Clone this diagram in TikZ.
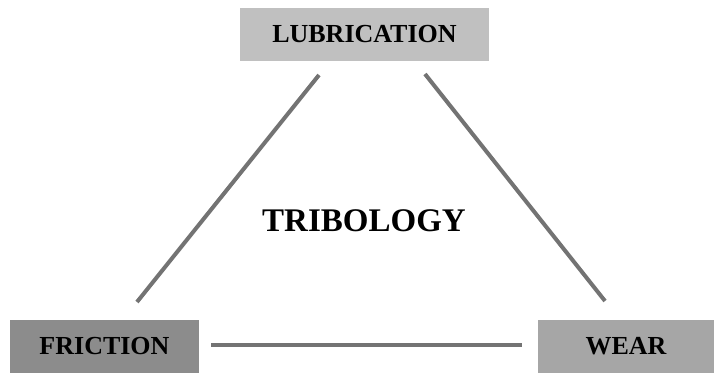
\documentclass[tikz,border=0pt]{standalone}
\usepackage{fontspec}
\setmainfont{Liberation Serif}
\definecolor{lubgray}{HTML}{C0C0C0}
\definecolor{fricgray}{HTML}{8C8C8C}
\definecolor{weargray}{HTML}{A6A6A6}
\definecolor{linegray}{HTML}{737373}
\begin{document}
\begin{tikzpicture}[x=1pt,y=1pt,
  box/.style={inner sep=0pt, minimum height=53pt, font=\fontsize{26}{28}\selectfont\bfseries, text=black},
  link/.style={draw=linegray, line width=4pt}]
\useasboundingbox (0,0) rectangle (715,-375);
\node[box, fill=lubgray, minimum width=249pt] (lub) at (364.5,-34.5) {LUBRICATION};
\node[box, fill=fricgray, minimum width=189pt] (fric) at (104.5,-346.5) {FRICTION};
\node[box, fill=weargray, minimum width=176pt] (wear) at (626,-346.5) {WEAR};
\node[font=\fontsize{33}{36}\selectfont\bfseries] (trib) at (364,-221) {TRIBOLOGY};
\coordinate (l1) at (319,-75);
\coordinate (l2) at (137,-302);
\coordinate (r1) at (425,-74);
\coordinate (r2) at (605,-301);
\coordinate (b1) at (211,-345);
\coordinate (b2) at (522,-345);
\draw[link] (l1) -- (l2);
\draw[link] (r1) -- (r2);
\draw[link] (b1) -- (b2);
\end{tikzpicture}
\end{document}
